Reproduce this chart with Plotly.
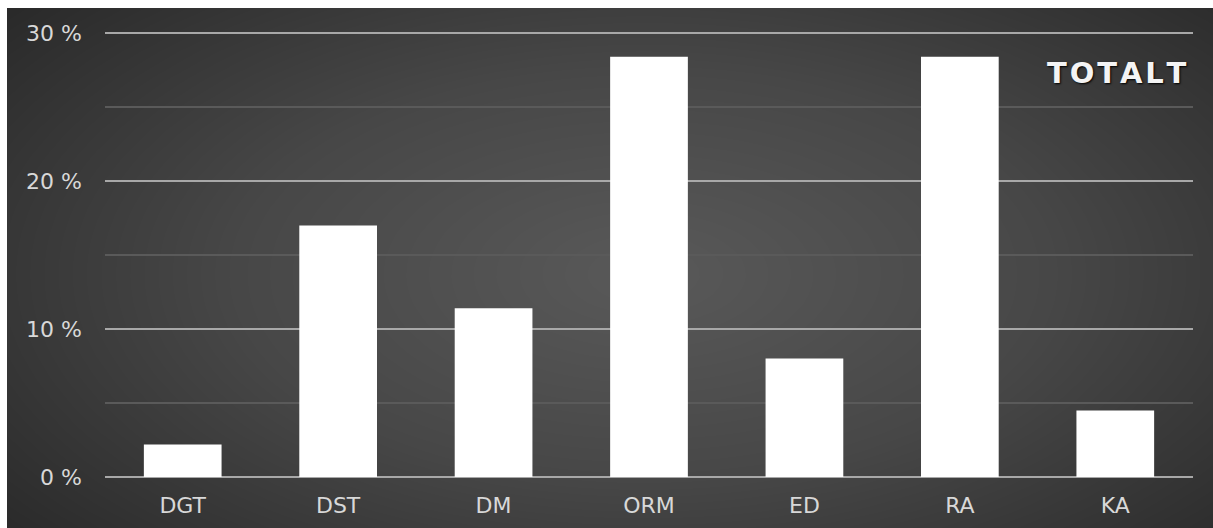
import numpy as np
import plotly.graph_objects as go

# Share per category, in percent
categories = ["DGT", "DST", "DM", "ORM", "ED", "RA", "KA"]
shares = [2.2, 17.0, 11.4, 28.4, 8.0, 28.4, 4.5]
y_ticks = [0, 10, 20, 30]
y_tick_labels = ["0 %", "10 %", "20 %", "30 %"]

W, H = 1213, 528

# Soft elliptical backdrop, lighter in the middle, darker towards the edges
gx = np.linspace(0, W, 121)
gy = np.linspace(0, H, 61)
X, Y = np.meshgrid(gx, gy)
dist = np.sqrt(((X - 640) / 650) ** 2 + ((Y - 270) / 330) ** 2)
backdrop = np.clip(dist, 0, 1.4)

fig = go.Figure()

fig.add_trace(go.Heatmap(
    x=gx, y=gy, z=backdrop,
    colorscale=[[0, "#595959"], [0.45, "#474747"], [1, "#242424"]],
    zmin=0, zmax=1.4, zsmooth="best", showscale=False, hoverinfo="skip",
    xaxis="x", yaxis="y",
))

fig.add_trace(go.Bar(
    x=categories, y=shares,
    marker=dict(color="#ffffff", line=dict(width=0)),
    xaxis="x2", yaxis="y2", hoverinfo="skip",
))

# Plot area: 0 % at y=477 px, 14.8 px per percent; a little headroom above 30 %
px_per_unit = 14.8
y_top = 30.3
x0, x1 = 105 / W, 1193 / W
y0 = (H - 477) / H
y1 = (H - 477 + y_top * px_per_unit) / H

label_font = dict(family="DejaVu Sans, sans-serif", size=22, color="#d8d8d8")

fig.update_layout(
    width=W, height=H,
    margin=dict(l=0, r=0, t=0, b=0, autoexpand=False),
    paper_bgcolor="#ffffff",
    plot_bgcolor="rgba(0,0,0,0)",
    showlegend=False,
    bargap=0.5,
    xaxis=dict(domain=[7 / W, 1], range=[0, W], visible=False,
               fixedrange=True, automargin=False),
    yaxis=dict(domain=[0, (H - 8) / H], range=[H, 0], visible=False,
               fixedrange=True, automargin=False),
    xaxis2=dict(
        domain=[x0, x1], anchor="y2", range=[-0.5, 6.5],
        showgrid=False, showline=False, zeroline=False, ticks="",
        tickfont=label_font, ticklabelstandoff=13, automargin=False,
    ),
    yaxis2=dict(
        domain=[y0, y1], anchor="x2", range=[0, y_top],
        tickmode="array", tickvals=y_ticks, ticktext=y_tick_labels,
        showgrid=True, gridcolor="#a8a8a8", gridwidth=2,
        minor=dict(dtick=5, showgrid=True, gridcolor="#5a5a5a", gridwidth=1.5),
        zeroline=True, zerolinecolor="#a8a8a8", zerolinewidth=2,
        showline=False, ticks="",
        tickfont=label_font, ticklabelstandoff=22, automargin=False,
    ),
    annotations=[dict(
        text="<b>T\u200aO\u200aT\u200aA\u200aL\u200aT</b>",
        xref="paper", yref="paper", x=1189 / W, y=(H - 73) / H,
        xanchor="right", yanchor="middle", showarrow=False,
        font=dict(family="DejaVu Sans, sans-serif", size=29, color="#f4f4f4",
                  shadow="1px 1px 2px #000"),
    )],
)

fig.write_html("out.html")
